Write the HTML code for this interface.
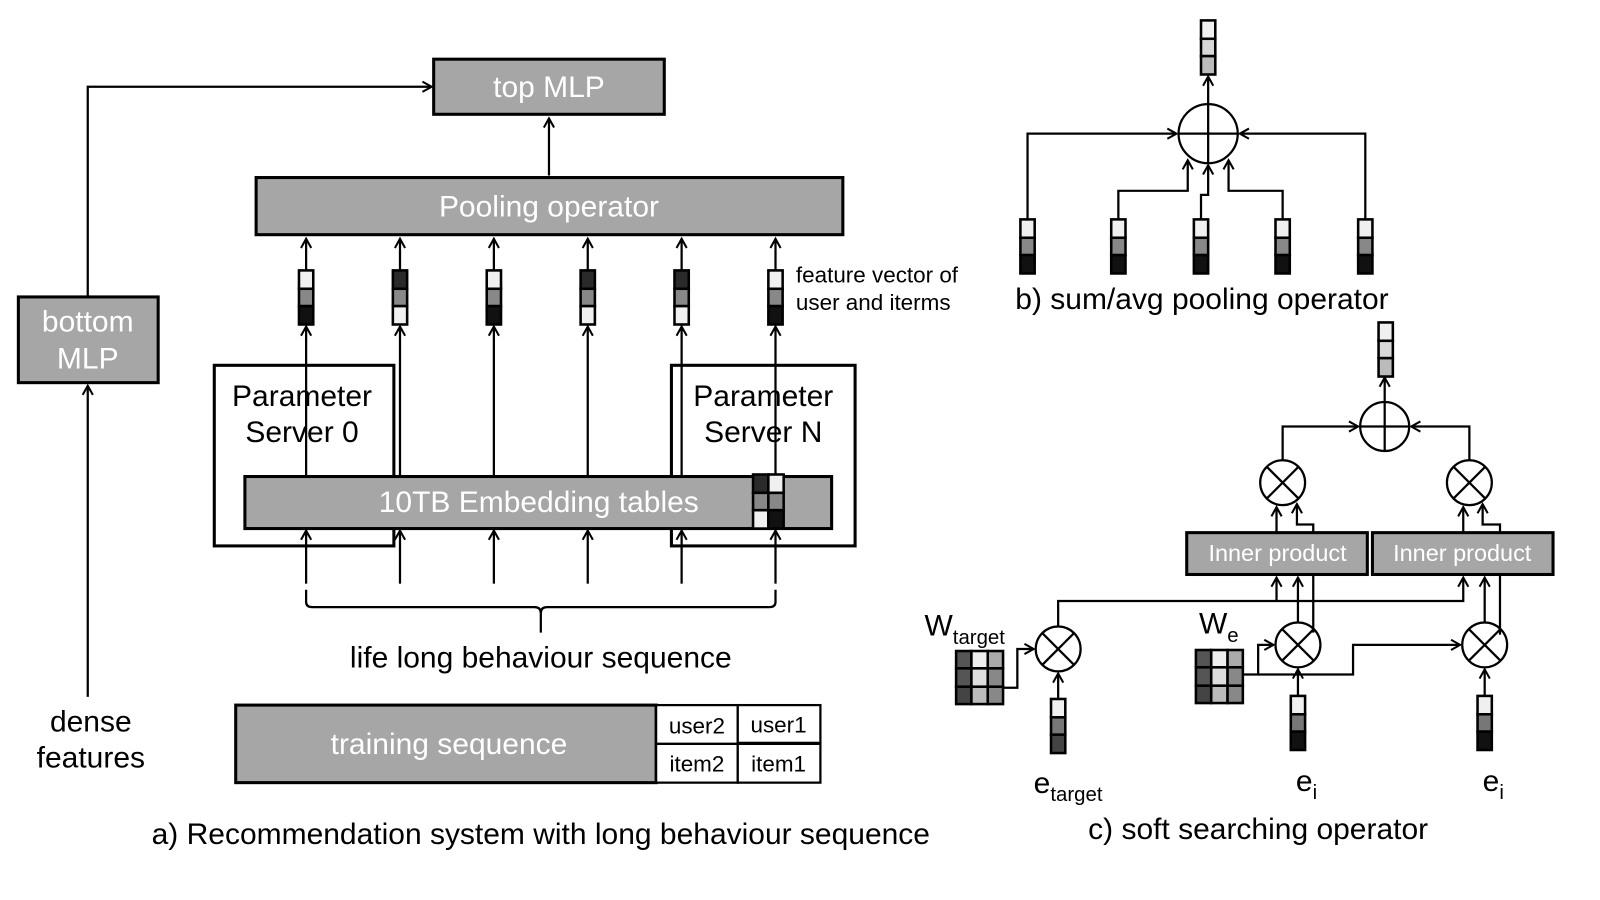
<!DOCTYPE html>
<html><head><meta charset="utf-8"><style>body{margin:0;background:#fff}svg{display:block}text{font-family:"Liberation Sans",sans-serif}</style></head><body>
<svg width="1600" height="900" viewBox="0 0 1600 900" xmlns="http://www.w3.org/2000/svg">
<defs>
<marker id="a" markerWidth="12" markerHeight="12" refX="10" refY="6" orient="auto" markerUnits="userSpaceOnUse"><path d="M1,1 L10,6 L1,11" fill="none" stroke="#000" stroke-width="2"/></marker>
<g id="ot" fill="none" stroke="#000" stroke-width="2.2"><circle cx="0" cy="0" r="22"/><line x1="-15.5" y1="-15.5" x2="15.5" y2="15.5"/><line x1="-15.5" y1="15.5" x2="15.5" y2="-15.5"/></g>
</defs>
<g transform="scale(1.0204)">
<g stroke="#000" stroke-width="2.2" fill="none">
<rect x="425" y="58" width="226" height="54" fill="#a6a6a6" stroke-width="3"/>
<rect x="251" y="174" width="575" height="56" fill="#a6a6a6" stroke-width="3"/>
<rect x="18" y="291" width="137" height="84" fill="#a6a6a6" stroke-width="3"/>
<line x1="538" y1="172" x2="538" y2="116" marker-end="url(#a)"/>
<polyline points="86,291 86,85 423,85" marker-end="url(#a)"/>
<line x1="86" y1="683" x2="86" y2="378" marker-end="url(#a)"/>
<rect x="210" y="358" width="176" height="177" stroke-width="3"/>
<rect x="658" y="358" width="180" height="177" stroke-width="3"/>
<g marker-end="url(#a)">
<line x1="300" y1="265" x2="300" y2="234"/><line x1="392" y1="265" x2="392" y2="234"/><line x1="484" y1="265" x2="484" y2="234"/><line x1="576" y1="265" x2="576" y2="234"/><line x1="668" y1="265" x2="668" y2="234"/><line x1="760" y1="265" x2="760" y2="234"/>
<line x1="300" y1="467" x2="300" y2="320"/><line x1="392" y1="467" x2="392" y2="320"/><line x1="484" y1="467" x2="484" y2="320"/><line x1="576" y1="467" x2="576" y2="320"/><line x1="668" y1="467" x2="668" y2="320"/><line x1="760" y1="467" x2="760" y2="320"/>
<line x1="300" y1="572" x2="300" y2="520"/><line x1="392" y1="572" x2="392" y2="520"/><line x1="484" y1="572" x2="484" y2="520"/><line x1="576" y1="572" x2="576" y2="520"/><line x1="668" y1="572" x2="668" y2="520"/><line x1="760" y1="572" x2="760" y2="520"/>
</g>
<rect x="240" y="467" width="575" height="51" fill="#a6a6a6" stroke-width="3"/>
<path d="M300,578 V590 Q300,595 306,595 H524 Q530,595 530,601 V620 M530,601 Q530,595 536,595 H754 Q760,595 760,590 V578"/>
<rect x="231" y="691" width="412" height="76" fill="#a6a6a6" stroke-width="3"/>
<rect x="643" y="691" width="80" height="38" fill="#fff"/>
<rect x="723" y="691" width="81" height="37" fill="#fff"/>
<rect x="643" y="729" width="80" height="38" fill="#fff"/>
<rect x="723" y="729" width="81" height="38" fill="#fff"/>
</g>
<g stroke="#000" stroke-width="2.5">
<g transform="translate(293,265)"><rect width="14" height="18" fill="#f0f0f0"/><rect y="18" width="14" height="17" fill="#888"/><rect y="35" width="14" height="18" fill="#111"/></g>
<g transform="translate(385,265)"><rect width="14" height="18" fill="#2a2a2a"/><rect y="18" width="14" height="17" fill="#888"/><rect y="35" width="14" height="18" fill="#f0f0f0"/></g>
<g transform="translate(477,265)"><rect width="14" height="18" fill="#f0f0f0"/><rect y="18" width="14" height="17" fill="#888"/><rect y="35" width="14" height="18" fill="#111"/></g>
<g transform="translate(569,265)"><rect width="14" height="18" fill="#2a2a2a"/><rect y="18" width="14" height="17" fill="#888"/><rect y="35" width="14" height="18" fill="#f0f0f0"/></g>
<g transform="translate(661,265)"><rect width="14" height="18" fill="#2a2a2a"/><rect y="18" width="14" height="17" fill="#888"/><rect y="35" width="14" height="18" fill="#f0f0f0"/></g>
<g transform="translate(753,265)"><rect width="14" height="18" fill="#f0f0f0"/><rect y="18" width="14" height="17" fill="#888"/><rect y="35" width="14" height="18" fill="#111"/></g>
<g transform="translate(738,465)"><rect width="15" height="18" fill="#2a2a2a"/><rect x="15" width="15" height="18" fill="#f0f0f0"/><rect y="18" width="15" height="17" fill="#888"/><rect x="15" y="18" width="15" height="17" fill="#888"/><rect y="35" width="15" height="18" fill="#f0f0f0"/><rect x="15" y="35" width="15" height="18" fill="#111"/></g>
</g>
<g font-size="29.4" fill="#fff" text-anchor="middle">
<text x="538" y="95">top MLP</text>
<text x="538" y="212">Pooling operator</text>
<text x="86" y="325">bottom</text><text x="86" y="361">MLP</text>
<text x="528" y="502">10TB Embedding tables</text>
<text x="440" y="739">training sequence</text>
</g>
<g font-size="29.4" fill="#000" text-anchor="middle">
<text x="296" y="398">Parameter</text><text x="296" y="433">Server 0</text>
<text x="748" y="398">Parameter</text><text x="748" y="433">Server N</text>
<text x="530" y="654">life long behaviour sequence</text>
<text x="89" y="717">dense</text><text x="89" y="752">features</text>
<text x="530" y="827">a) Recommendation system with long behaviour sequence</text>
<text x="1233" y="822">c) soft searching operator</text>
</g>
<g font-size="22" fill="#000" text-anchor="middle">
<text x="683" y="719">user2</text><text x="763" y="718">user1</text>
<text x="683" y="756">item2</text><text x="763" y="756">item1</text>
</g>
<text x="780" y="277" font-size="22">feature vector of</text>
<text x="780" y="304" font-size="22">user and iterms</text>
<text x="995" y="303" font-size="29.4">b) sum/avg pooling operator</text>

<g stroke="#000" stroke-width="2.2" fill="none">
<circle cx="1184" cy="131" r="29"/>
<line x1="1155" y1="131" x2="1213" y2="131"/><line x1="1184" y1="102" x2="1184" y2="160"/>
<line x1="1184" y1="102" x2="1184" y2="75" marker-end="url(#a)"/>
<polyline points="1007,215 1007,131 1153,131" marker-end="url(#a)"/>
<polyline points="1338,215 1338,131 1215,131" marker-end="url(#a)"/>
<polyline points="1096,215 1096,187 1164,187 1164,157" marker-end="url(#a)"/>
<polyline points="1177,215 1177,191 1184,191 1184,162" marker-end="url(#a)"/>
<polyline points="1257,215 1257,187 1204,187 1204,157" marker-end="url(#a)"/>
</g>
<g stroke="#000" stroke-width="2.5">
<g transform="translate(1177,20)"><rect width="14" height="18" fill="#f0f0f0"/><rect y="18" width="14" height="17" fill="#d8d8d8"/><rect y="35" width="14" height="18" fill="#bbb"/></g>
<g transform="translate(1000,215)"><rect width="14" height="18" fill="#f0f0f0"/><rect y="18" width="14" height="17" fill="#888"/><rect y="35" width="14" height="18" fill="#111"/></g>
<g transform="translate(1089,215)"><rect width="14" height="18" fill="#f0f0f0"/><rect y="18" width="14" height="17" fill="#888"/><rect y="35" width="14" height="18" fill="#111"/></g>
<g transform="translate(1170,215)"><rect width="14" height="18" fill="#f0f0f0"/><rect y="18" width="14" height="17" fill="#888"/><rect y="35" width="14" height="18" fill="#111"/></g>
<g transform="translate(1250,215)"><rect width="14" height="18" fill="#f0f0f0"/><rect y="18" width="14" height="17" fill="#888"/><rect y="35" width="14" height="18" fill="#111"/></g>
<g transform="translate(1331,215)"><rect width="14" height="18" fill="#f0f0f0"/><rect y="18" width="14" height="17" fill="#888"/><rect y="35" width="14" height="18" fill="#111"/></g>
</g>

<g stroke="#000" stroke-width="2.2" fill="none">
<circle cx="1357" cy="418" r="24"/>
<line x1="1333" y1="418" x2="1381" y2="418"/><line x1="1357" y1="394" x2="1357" y2="442"/>
<line x1="1357" y1="394" x2="1357" y2="370" marker-end="url(#a)"/>
<polyline points="1257,451 1257,418 1331,418" marker-end="url(#a)"/>
<polyline points="1440,451 1440,418 1383,418" marker-end="url(#a)"/>
<use href="#ot" x="1257" y="473"/><use href="#ot" x="1440" y="473"/>
<use href="#ot" x="1037" y="636"/><use href="#ot" x="1272" y="632"/><use href="#ot" x="1455" y="632"/>
<rect x="1163" y="522" width="177" height="41" fill="#a6a6a6" stroke-width="3"/>
<rect x="1345" y="522" width="177" height="41" fill="#a6a6a6" stroke-width="3"/>
<line x1="1251" y1="522" x2="1251" y2="497" marker-end="url(#a)"/>
<polyline points="1287,522 1287,514 1271,514 1271,494" marker-end="url(#a)"/>
<line x1="1434" y1="522" x2="1434" y2="497" marker-end="url(#a)"/>
<polyline points="1470,522 1470,514 1453,514 1453,494" marker-end="url(#a)"/>
<polyline points="1037,614 1037,589 1434,589 1434,566" marker-end="url(#a)"/>
<line x1="1251" y1="589" x2="1251" y2="566" marker-end="url(#a)"/>
<line x1="1272" y1="610" x2="1272" y2="566" marker-end="url(#a)"/>
<line x1="1287" y1="620" x2="1287" y2="563"/>
<line x1="1455" y1="610" x2="1455" y2="566" marker-end="url(#a)"/>
<line x1="1470" y1="622" x2="1470" y2="563"/>
<polyline points="983,674 997,674 997,636 1013,636" marker-end="url(#a)"/>
<polyline points="1218,661 1233,661 1233,632 1248,632" marker-end="url(#a)"/>
<polyline points="1233,661 1326,661 1326,632 1431,632" marker-end="url(#a)"/>
<line x1="1037" y1="685" x2="1037" y2="660" marker-end="url(#a)"/>
<line x1="1272" y1="682" x2="1272" y2="656" marker-end="url(#a)"/>
<line x1="1455" y1="682" x2="1455" y2="656" marker-end="url(#a)"/>
</g>
<g stroke="#000" stroke-width="2.5">
<g transform="translate(1351,316)"><rect width="14" height="18" fill="#f0f0f0"/><rect y="18" width="14" height="17" fill="#d8d8d8"/><rect y="35" width="14" height="18" fill="#bbb"/></g>
<g transform="translate(1030,685)"><rect width="14" height="18" fill="#f0f0f0"/><rect y="18" width="14" height="17" fill="#777"/><rect y="35" width="14" height="18" fill="#444"/></g>
<g transform="translate(1265,682)"><rect width="14" height="18" fill="#f0f0f0"/><rect y="18" width="14" height="17" fill="#777"/><rect y="35" width="14" height="18" fill="#111"/></g>
<g transform="translate(1448,682)"><rect width="14" height="18" fill="#f0f0f0"/><rect y="18" width="14" height="17" fill="#777"/><rect y="35" width="14" height="18" fill="#111"/></g>
<g transform="translate(937,638)"><rect width="15" height="17" fill="#555"/><rect x="15" width="16" height="17" fill="#eee"/><rect x="31" width="15" height="17" fill="#aaa"/><rect y="17" width="15" height="18" fill="#555"/><rect x="15" y="17" width="16" height="18" fill="#ddd"/><rect x="31" y="17" width="15" height="18" fill="#888"/><rect y="35" width="15" height="17" fill="#444"/><rect x="15" y="35" width="16" height="17" fill="#bbb"/><rect x="31" y="35" width="15" height="17" fill="#888"/></g>
<g transform="translate(1172,637)"><rect width="15" height="17" fill="#555"/><rect x="15" width="16" height="17" fill="#eee"/><rect x="31" width="15" height="17" fill="#aaa"/><rect y="17" width="15" height="18" fill="#555"/><rect x="15" y="17" width="16" height="18" fill="#ddd"/><rect x="31" y="17" width="15" height="18" fill="#888"/><rect y="35" width="15" height="17" fill="#444"/><rect x="15" y="35" width="16" height="17" fill="#bbb"/><rect x="31" y="35" width="15" height="17" fill="#888"/></g>
</g>
<g font-size="23" fill="#fff" text-anchor="middle">
<text x="1252" y="550">Inner product</text><text x="1433" y="550">Inner product</text>
</g>
<g fill="#000">
<text x="906" y="623" font-size="29.4">W<tspan font-size="20" dy="8">target</tspan></text>
<text x="1175" y="621" font-size="29.4">W<tspan font-size="20" dy="8">e</tspan></text>
<text x="1013" y="777" font-size="29.4">e<tspan font-size="20" dy="8">target</tspan></text>
<text x="1270" y="775" font-size="29.4">e<tspan font-size="20" dy="8">i</tspan></text>
<text x="1453" y="775" font-size="29.4">e<tspan font-size="20" dy="8">i</tspan></text>
</g>
</g>
</svg>
</body></html>
